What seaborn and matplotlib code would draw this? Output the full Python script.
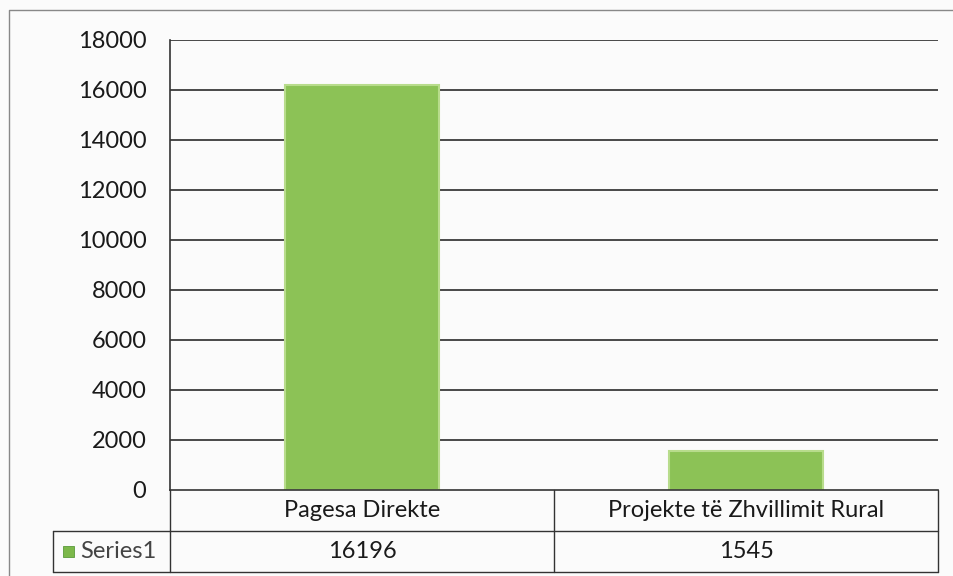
import numpy as np
import pandas as pd
import matplotlib.pyplot as plt
import seaborn as sns
from matplotlib.patches import Rectangle

categories = ['Pagesa Direkte', 'Projekte të Zhvillimit Rural']
values = [16196, 1545]
series_name = 'Series1'
y_ticks = [0, 2000, 4000, 6000, 8000, 10000, 12000, 14000, 16000, 18000]

df = pd.DataFrame({'category': categories, 'value': values})

sns.set_style('white')
plt.rcParams['font.family'] = ['Lato', 'DejaVu Sans']

W, H = 954, 576
fig = plt.figure(figsize=(9.54, 5.76), dpi=100)
fig.patch.set_facecolor('#fbfbfb')

# plot area in pixel coords
left, right, top, bottom = 170, 938, 40, 490
ax = fig.add_axes([left / W, 1 - bottom / H, (right - left) / W, (bottom - top) / H])
ax.set_facecolor('#fbfbfb')

for t in y_ticks[1:]:
    ax.axhline(t, color='#2b2b2b', lw=1.2, zorder=0)

sns.barplot(data=df, x='category', y='value', color='#8cc256', width=0.4,
            edgecolor='#b8dc8c', linewidth=1.5, saturation=1, ax=ax, zorder=2)

ax.set_ylim(0, 18000)
ax.set_xlim(-0.5, 1.5)
ax.set_yticks(y_ticks)
ax.set_yticklabels([str(t) for t in y_ticks], fontsize=17, color='#1a1a1a')
ax.tick_params(axis='y', length=0, pad=17)
ax.set_xticks([])
ax.set_xlabel('')
ax.set_ylabel('')
for s in ['top', 'right']:
    ax.spines[s].set_visible(False)
ax.spines['left'].set_color('#333333')
ax.spines['bottom'].set_color('#333333')
ax.spines['left'].set_linewidth(1.2)
ax.spines['bottom'].set_linewidth(1.2)


def fx(px):
    return px / W


def fy(py):
    return 1 - py / H


line_kw = dict(color='#333333', lw=1.0, transform=fig.transFigure)
# data table below the plot
row1, row2, row3 = 490, 531, 572
tab_left = 53
mid = (left + right) / 2
fig.add_artist(plt.Line2D([fx(left), fx(left)], [fy(row1), fy(row3)], **line_kw))
fig.add_artist(plt.Line2D([fx(mid), fx(mid)], [fy(row1), fy(row3)], **line_kw))
fig.add_artist(plt.Line2D([fx(right), fx(right)], [fy(row1), fy(row3)], **line_kw))
fig.add_artist(plt.Line2D([fx(tab_left), fx(right)], [fy(row2), fy(row2)], **line_kw))
fig.add_artist(plt.Line2D([fx(tab_left), fx(right)], [fy(row3), fy(row3)], **line_kw))
fig.add_artist(plt.Line2D([fx(tab_left), fx(tab_left)], [fy(row2), fy(row3)], **line_kw))

centers = [(left + mid) / 2, (mid + right) / 2]
for c, cat, v in zip(centers, categories, values):
    fig.text(fx(c), fy((row1 + row2) / 2), cat, ha='center', va='center',
             fontsize=17, color='#1a1a1a')
    fig.text(fx(c), fy((row2 + row3) / 2), str(v), ha='center', va='center',
             fontsize=17, color='#1a1a1a')

# legend key + series name
fig.add_artist(Rectangle((fx(63), fy(557)), 11 / W, 11 / H, transform=fig.transFigure,
                         facecolor='#7cb84a', edgecolor='#5a9a3a', lw=0.6))
fig.text(fx(80), fy((row2 + row3) / 2), series_name, ha='left', va='center',
         fontsize=17, color='#444444')

# outer chart border
fig.add_artist(plt.Line2D([fx(9), fx(9), fx(954)], [fy(576), fy(10), fy(10)],
                          color='#888888', lw=1.0, transform=fig.transFigure))

fig.savefig('out.png', dpi=100, facecolor=fig.get_facecolor())
